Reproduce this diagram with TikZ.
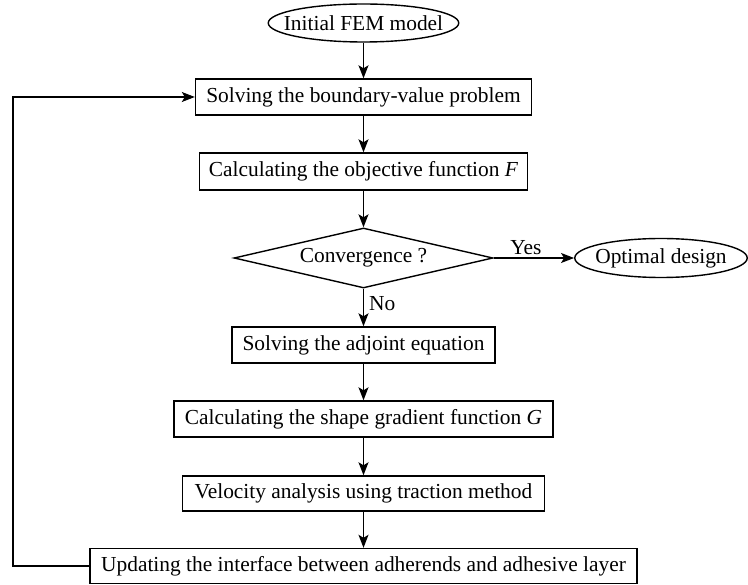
\documentclass[tikz,border=0pt]{standalone}
\usepackage{fontspec}
\setmainfont{Liberation Serif}
\usetikzlibrary{shapes.geometric,arrows.meta}
\begin{document}
\begin{tikzpicture}[x=1pt,y=-1pt,
  every node/.style={font=\fontsize{21.4}{25}\selectfont},
  procbox/.style={draw, line width=1.4pt, inner sep=0pt, minimum height=36pt},
  termell/.style={draw, ellipse, line width=1.4pt, inner ysep=0pt},
  decide/.style={draw, diamond, line width=1.4pt, inner sep=0pt, aspect=4.3, minimum width=259pt, minimum height=60pt},
  conn/.style={line width=1.2pt, -{Stealth[length=13pt,width=10pt,inset=3pt]}},
  lbl/.style={inner sep=0pt}
]
\useasboundingbox (0,0) rectangle (748,585);
\node[termell, inner xsep=-12.3pt, minimum height=38pt] (init) at (363.5,23) {Initial FEM model};
\node[procbox, minimum width=336pt] (bvp) at (363.5,97) {Solving the boundary-value problem};
\node[procbox, minimum width=328pt, minimum height=37pt] (obj) at (363.5,171.5) {Calculating the objective function \textit{F}};
\node[decide] (conv) at (363.5,258) {Convergence ?};
\node[termell, inner xsep=-4.7pt, minimum height=39pt] (opt) at (661,258) {Optimal design};
\node[procbox, minimum width=263pt] (adj) at (363.5,345) {Solving the adjoint equation};
\node[procbox, minimum width=379pt] (grad) at (363.5,419) {Calculating the shape gradient function \textit{G}};
\node[procbox, minimum width=362pt, minimum height=35pt] (vel) at (363.5,493.5) {Velocity analysis using traction method};
\node[procbox, minimum width=547pt, minimum height=35pt] (upd) at (363.5,566) {Updating the interface between adherends and adhesive layer};
\coordinate (fb) at (13,566);
\draw[conn] (init) -- (bvp);
\draw[conn] (bvp) -- (obj);
\draw[conn] (obj) -- (conv);
\draw[conn] (conv) -- node[lbl, above=3pt, pos=0.4] {Yes} (opt);
\draw[conn] (conv) -- node[lbl, right=5pt, pos=0.4] {No} (adj);
\draw[conn] (adj) -- (grad);
\draw[conn] (grad) -- (vel);
\draw[conn] (vel) -- (upd);
\draw[conn] (upd.west) -- (fb) |- (bvp.west);
\end{tikzpicture}
\end{document}
